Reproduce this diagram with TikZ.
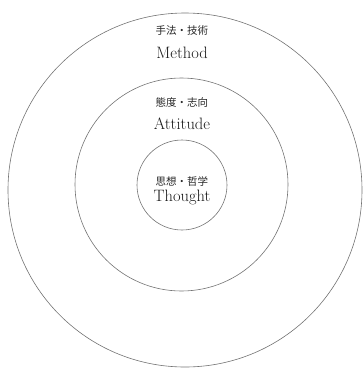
\documentclass[tikz,border=0pt]{standalone}
\usepackage{fontspec}
\newfontfamily\jpfont{Noto Sans CJK JP}
\usetikzlibrary{positioning}

\begin{document}
\begin{tikzpicture}[
  x=1pt, y=-1pt,
  ring/.style={
    circle, draw=black!55, line width=0.6pt,
    inner sep=0pt, fill=none
  },
  jplbl/.style={
    font=\jpfont\fontsize{10.5}{12}\selectfont,
    inner sep=0pt, text=black!85
  },
  enlbl/.style={
    font=\fontsize{16.5}{19}\selectfont,
    inner sep=0pt, anchor=base, text=black!90
  }
]

\useasboundingbox (0,0) rectangle (363,368);

%% ── Rings ───────────────────────────────────────────────────────────
\node[ring, minimum size=354pt] (outer)  at (185,190) {};
\node[ring, minimum size=213pt] (middle) at (181.5,184.5) {};
\node[ring, minimum size=90pt]  (inner)  at (182,185) {};

%% ── Labels (Japanese above, English below) ─────────────────────────
\node[jplbl] (methodjp)   at (182,31)  {手法・技術};
\node[enlbl] (methoden)   at (182,58)  {Method};

\node[jplbl] (attitudejp) at (182,102) {態度・志向};
\node[enlbl] (attitudeen) at (182,129) {Attitude};

\node[jplbl] (thoughtjp)  at (182,181) {思想・哲学};
\node[enlbl] (thoughten)  at (182,201) {Thought};

\end{tikzpicture}
\end{document}
